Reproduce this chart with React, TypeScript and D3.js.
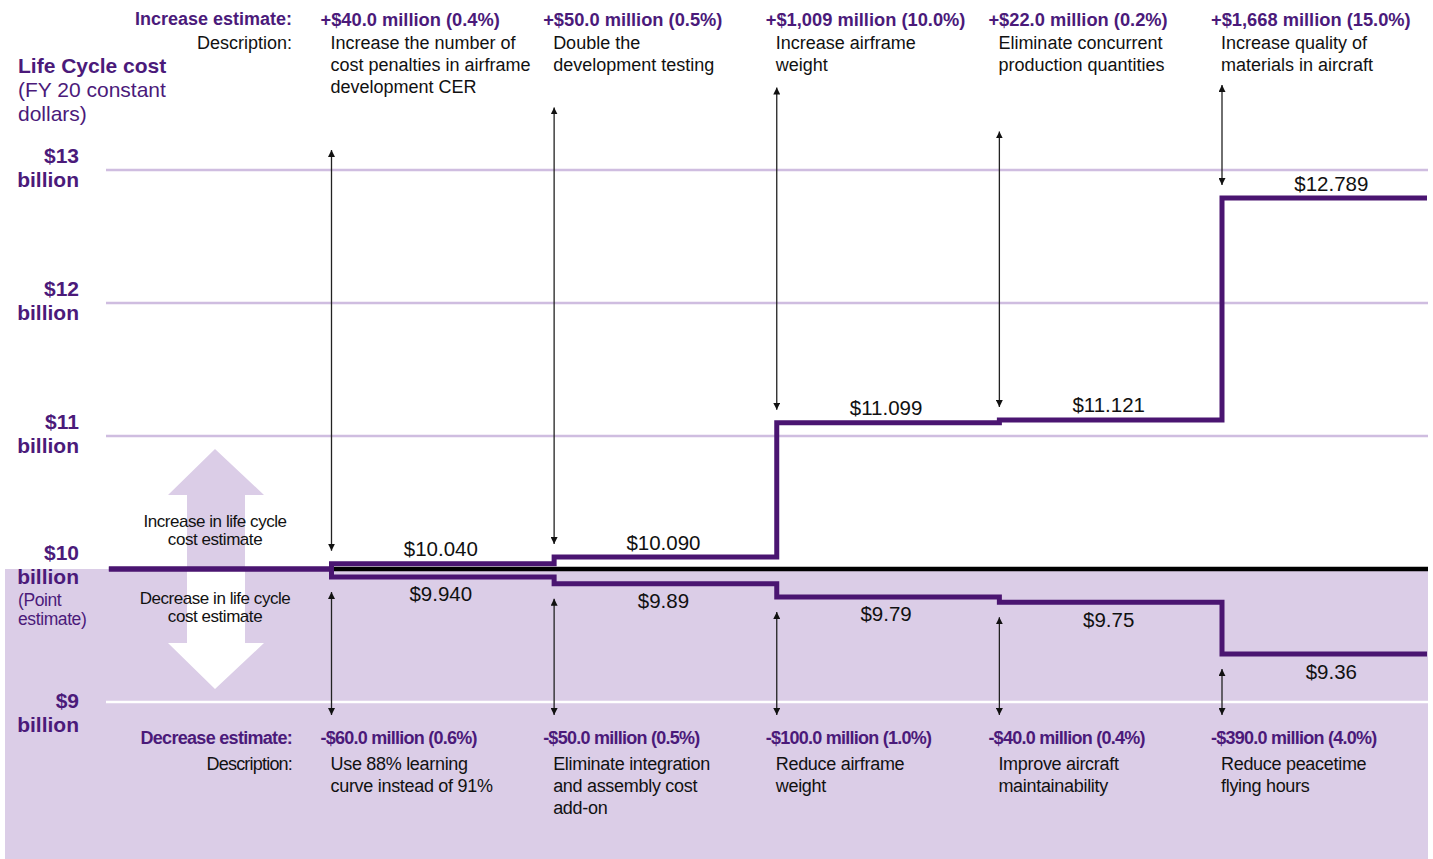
import React from "react";
import * as d3 from "d3";

// sensitivity of the life cycle cost estimate (billions, FY20 constant dollars)
const pointEstimate = 10;
const yTicks = [9, 10, 11, 12, 13];

const increaseAmounts = [
  "+$40.0 million (0.4%)",
  "+$50.0 million (0.5%)",
  "+$1,009 million (10.0%)",
  "+$22.0 million (0.2%)",
  "+$1,668 million (15.0%)",
];
const increaseDescriptions = [
  ["Increase the number of", "cost penalties in airframe", "development CER"],
  ["Double the", "development testing"],
  ["Increase airframe", "weight"],
  ["Eliminate concurrent", "production quantities"],
  ["Increase quality of", "materials in aircraft"],
];
const increaseTotals = [10.04, 10.09, 11.099, 11.121, 12.789];
const increaseLabels = ["$10.040", "$10.090", "$11.099", "$11.121", "$12.789"];
// where the arrow above each step begins (in billions)
const increaseArrowTops = [13.15, 13.47, 13.62, 13.29, 13.64];

const decreaseAmounts = [
  "-$60.0 million (0.6%)",
  "-$50.0 million (0.5%)",
  "-$100.0 million (1.0%)",
  "-$40.0 million (0.4%)",
  "-$390.0 million (4.0%)",
];
const decreaseDescriptions = [
  ["Use 88% learning", "curve instead of 91%"],
  ["Eliminate integration", "and assembly cost", "add-on"],
  ["Reduce airframe", "weight"],
  ["Improve aircraft", "maintainability"],
  ["Reduce peacetime", "flying hours"],
];
const decreaseTotals = [9.94, 9.89, 9.79, 9.75, 9.36];
const decreaseLabels = ["$9.940", "$9.89", "$9.79", "$9.75", "$9.36"];

const W = 1433;
const H = 859;
const font = "'Liberation Sans', Arial, sans-serif";
const purpleText = "#4b1a7a";
const purpleLine = "#4a1571";
const lavender = "#dbcde7";
const gridColor = "#cfbde0";
const plotRight = 1427;

const Lines = ({ x, y, lines, step, ...rest }: any) => (
  <text x={x} y={y} dominantBaseline="central" {...rest}>
    {lines.map((l: string, i: number) => (
      <tspan key={i} x={x} y={y + i * step}>
        {l}
      </tspan>
    ))}
  </text>
);

export default function App() {
  const y = d3.scaleLinear().domain([9, 13]).range([702, 170]);
  const x = d3.scaleLinear().domain([0, 4]).range([331.5, 1222]);
  const stepW = x(1) - x(0);

  const line = d3
    .line<[number, number]>()
    .x((d) => d[0])
    .y((d) => y(d[1]))
    .curve(d3.curveStepAfter);

  const incPts: [number, number][] = [[x(-1), pointEstimate]];
  increaseTotals.forEach((v, i) => incPts.push([x(i), v]));
  incPts.push([plotRight, increaseTotals[increaseTotals.length - 1]]);

  const decPts: [number, number][] = [[x(-1), pointEstimate]];
  decreaseTotals.forEach((v, i) => decPts.push([x(i), v]));
  decPts.push([plotRight, decreaseTotals[decreaseTotals.length - 1]]);

  const y10 = y(pointEstimate);
  const ax = 215;

  return (
    <svg
      width={W}
      height={H}
      style={{ position: "absolute", left: 0, top: 0, display: "block", background: "#fff" }}
      fontFamily={font}
    >
      <defs>
        <marker
          id="ah"
          viewBox="0 0 8 8"
          refX={8}
          refY={4}
          markerWidth={7}
          markerHeight={7}
          markerUnits="userSpaceOnUse"
          orient="auto-start-reverse"
        >
          <path d="M0,0 L8,4 L0,8 z" fill="#111" />
        </marker>
      </defs>

      {/* lower (decrease) panel */}
      <rect x={5} y={y10} width={1423} height={H - y10} fill={lavender} />

      {/* gridlines */}
      {yTicks
        .filter((t) => t !== pointEstimate)
        .map((t) => (
          <line
            key={t}
            x1={106}
            x2={1428}
            y1={y(t)}
            y2={y(t)}
            stroke={t < pointEstimate ? "#fff" : gridColor}
            strokeWidth={2.5}
          />
        ))}

      {/* big direction arrows */}
      <polygon
        points={`${ax},${y10 - 120} ${ax + 49},${y10 - 74} ${ax + 30},${y10 - 74} ${ax + 30},${y10} ${ax - 28},${y10} ${ax - 28},${y10 - 74} ${ax - 47},${y10 - 74}`}
        fill={lavender}
      />
      <polygon
        points={`${ax - 28},${y10} ${ax + 30},${y10} ${ax + 30},${y10 + 74} ${ax + 49},${y10 + 74} ${ax},${y10 + 120} ${ax - 47},${y10 + 74} ${ax - 28},${y10 + 74}`}
        fill="#fff"
      />
      <Lines
        x={ax}
        y={520.5}
        step={18}
        lines={["Increase in life cycle", "cost estimate"]}
        textAnchor="middle"
        fontSize={17}
        letterSpacing={-0.45}
        fill="#111"
      />
      <Lines
        x={ax}
        y={597.5}
        step={18}
        lines={["Decrease in life cycle", "cost estimate"]}
        textAnchor="middle"
        fontSize={17}
        letterSpacing={-0.45}
        fill="#111"
      />

      {/* point estimate baseline */}
      <line x1={x(0)} x2={1428} y1={y10} y2={y10} stroke="#000" strokeWidth={4.5} />

      {/* step lines */}
      <path d={line(incPts) || ""} fill="none" stroke={purpleLine} strokeWidth={5} />
      <path d={line(decPts) || ""} fill="none" stroke={purpleLine} strokeWidth={5} />

      {/* arrows */}
      {increaseTotals.map((v, i) => (
        <line
          key={"ia" + i}
          x1={x(i)}
          x2={x(i)}
          y1={y(increaseArrowTops[i])}
          y2={y(v) - 13}
          stroke="#222"
          strokeWidth={1.3}
          markerStart="url(#ah)"
          markerEnd="url(#ah)"
        />
      ))}
      {decreaseTotals.map((v, i) => (
        <line
          key={"da" + i}
          x1={x(i)}
          x2={x(i)}
          y1={y(v) + 15}
          y2={y(9) + 13}
          stroke="#222"
          strokeWidth={1.3}
          markerStart="url(#ah)"
          markerEnd="url(#ah)"
        />
      ))}

      {/* step value labels */}
      {increaseLabels.map((l, i) => (
        <text
          key={"il" + i}
          x={x(i) + stepW / 2 - 2}
          y={y(increaseTotals[i]) - 15}
          textAnchor="middle"
          dominantBaseline="central"
          fontSize={20.5}
          fill="#111"
        >
          {l}
        </text>
      ))}
      {decreaseLabels.map((l, i) => (
        <text
          key={"dl" + i}
          x={x(i) + stepW / 2 - 2}
          y={y(decreaseTotals[i]) + 17}
          textAnchor="middle"
          dominantBaseline="central"
          fontSize={20.5}
          fill="#111"
        >
          {l}
        </text>
      ))}

      {/* y axis labels */}
      <text x={18} y={65.5} dominantBaseline="central" fontSize={21} fontWeight="bold" fill={purpleText}>
        Life Cycle cost
      </text>
      <Lines x={18} y={89} step={23.5} lines={["(FY 20 constant", "dollars)"]} fontSize={21} fill={purpleText} />
      {yTicks.map((t) => {
        const shift = t === pointEstimate ? -17 : t === 9 ? -2 : -15;
        return (
          <Lines
            key={"yt" + t}
            x={79}
            y={y(t) + shift}
            step={24}
            lines={["$" + t, "billion"]}
            textAnchor="end"
            fontSize={21}
            fontWeight="bold"
            fill={purpleText}
          />
        );
      })}
      <Lines
        x={18}
        y={599.5}
        step={19.5}
        lines={["(Point", "estimate)"]}
        fontSize={17.5}
        letterSpacing={-0.4}
        fill={purpleText}
      />

      {/* increase headers */}
      <text x={292} y={19} textAnchor="end" dominantBaseline="central" fontSize={18} fontWeight="bold" fill={purpleText}>
        Increase estimate:
      </text>
      <text x={292} y={43} textAnchor="end" dominantBaseline="central" fontSize={18} fill="#111">
        Description:
      </text>
      {increaseAmounts.map((a, i) => (
        <text
          key={"ih" + i}
          x={x(i) - 11}
          y={19}
          dominantBaseline="central"
          fontSize={18.3}
          fontWeight="bold"
          fill={purpleText}
        >
          {a}
        </text>
      ))}
      {increaseDescriptions.map((d, i) => (
        <Lines key={"id" + i} x={x(i) - 1} y={43} step={22} lines={d} fontSize={18} fill="#111" />
      ))}

      {/* decrease headers */}
      <text
        x={292}
        y={738}
        textAnchor="end"
        dominantBaseline="central"
        fontSize={18}
        fontWeight="bold"
        letterSpacing={-0.7}
        fill={purpleText}
      >
        Decrease estimate:
      </text>
      <text x={292} y={764} textAnchor="end" dominantBaseline="central" fontSize={18} letterSpacing={-0.8} fill="#111">
        Description:
      </text>
      {decreaseAmounts.map((a, i) => (
        <text
          key={"dh" + i}
          x={x(i) - 11}
          y={738}
          dominantBaseline="central"
          fontSize={18}
          fontWeight="bold"
          letterSpacing={-0.75}
          fill={purpleText}
        >
          {a}
        </text>
      ))}
      {decreaseDescriptions.map((d, i) => (
        <Lines
          key={"dd" + i}
          x={x(i) - 1}
          y={764}
          step={22}
          lines={d}
          fontSize={18}
          letterSpacing={-0.3}
          fill="#111"
        />
      ))}
    </svg>
  );
}
